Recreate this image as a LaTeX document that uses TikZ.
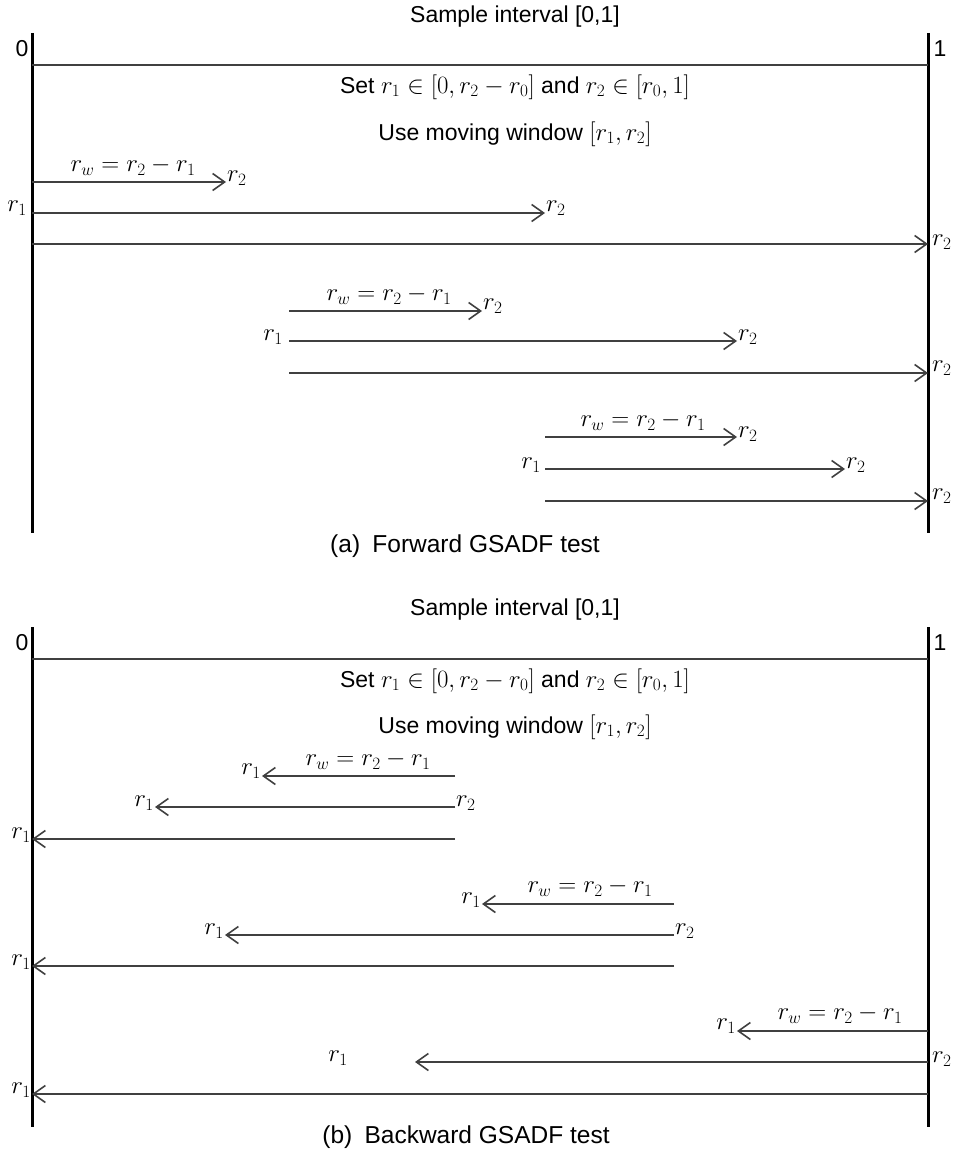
\documentclass[tikz,border=0pt]{standalone}
\usepackage{fontspec}
\setmainfont{Liberation Sans}
\usetikzlibrary{arrows.meta}
\newcommand{\lblsize}[0]{\fontsize{23}{28}\selectfont}
\newcommand{\capsize}[0]{\fontsize{24.5}{29}\selectfont}
\newcommand{\rwin}[0]{$r_w = r_2 - r_1$}

\begin{document}
\begin{tikzpicture}[x=1pt, y=-1pt]
  \tikzset{every node/.style={font=\lblsize, inner sep=1pt},
    frameline/.style={line width=3pt},
    spanline/.style={line width=1.6pt, black!75},
    winarrow/.style={spanline, -{Straight Barb[length=12pt,width=17pt,line width=1.6pt]}}}
  \useasboundingbox (0,0) rectangle (953,1153);
  % (a) forward
  \node (SI-a) at (515,17) {Sample interval [0,1]};
  \node (Z-a) at (22,49) {0};
  \node (O-a) at (940,49) {1};
  \coordinate (L-a-t) at (32,33);
  \coordinate (L-a-b) at (32,533);
  \coordinate (R-a-t) at (928,33);
  \coordinate (R-a-b) at (928,533);
  \draw[frameline] (L-a-t) -- (L-a-b);
  \draw[frameline] (R-a-t) -- (R-a-b);
  \draw[spanline] (32,65) coordinate (H-a-l) -- (928,65) coordinate (H-a-r);
  \node (SET-a) at (515,87) {Set $r_1 \in [0, r_2 - r_0]$ and $r_2 \in [r_0, 1]$};
  \node (WIN-a) at (515,134) {Use moving window $[r_1, r_2]$};
  % first start point
  \coordinate (A-1-1) at (32,182);
  \coordinate (A-1-2) at (32,213);
  \coordinate (A-1-3) at (32,244);
  \node (RW-a-1) at (133,166) {\rwin};
  \node[anchor=west] (E-1-1) at (226,178) {$r_2$};
  \node (S-1-2) at (17,208) {$r_1$};
  \node[anchor=west] (E-1-2) at (545,208) {$r_2$};
  \node[anchor=west] (E-1-3) at (931,242) {$r_2$};
  \draw[winarrow] (A-1-1) -- (226,182);
  \draw[winarrow] (A-1-2) -- (545,213);
  \draw[winarrow] (A-1-3) -- (928,244);
  % second start point
  \coordinate (A-2-1) at (289,311);
  \coordinate (A-2-2) at (289,341);
  \coordinate (A-2-3) at (289,373);
  \node (RW-a-2) at (389,295) {\rwin};
  \node[anchor=west] (E-2-1) at (482,306) {$r_2$};
  \node (S-2-2) at (273,337) {$r_1$};
  \node[anchor=west] (E-2-2) at (737,337) {$r_2$};
  \node[anchor=west] (E-2-3) at (931,368) {$r_2$};
  \draw[winarrow] (A-2-1) -- (482,311);
  \draw[winarrow] (A-2-2) -- (737,341);
  \draw[winarrow] (A-2-3) -- (928,373);
  % third start point
  \coordinate (A-3-1) at (545,437);
  \coordinate (A-3-2) at (545,469);
  \coordinate (A-3-3) at (545,501);
  \node (RW-a-3) at (643,421) {\rwin};
  \node[anchor=west] (E-3-1) at (737,434) {$r_2$};
  \node (S-3-2) at (531,465) {$r_1$};
  \node[anchor=west] (E-3-2) at (845,465) {$r_2$};
  \node[anchor=west] (E-3-3) at (931,496) {$r_2$};
  \draw[winarrow] (A-3-1) -- (737,437);
  \draw[winarrow] (A-3-2) -- (845,469);
  \draw[winarrow] (A-3-3) -- (928,501);
  \node[font=\capsize] (CAP-a) at (465,546) {(a)\enspace Forward GSADF test};
  % (b) backward
  \node (SI-b) at (515,610) {Sample interval [0,1]};
  \node (Z-b) at (22,643) {0};
  \node (O-b) at (940,643) {1};
  \coordinate (L-b-t) at (32,627);
  \coordinate (L-b-b) at (32,1127);
  \coordinate (R-b-t) at (928,627);
  \coordinate (R-b-b) at (928,1127);
  \draw[frameline] (L-b-t) -- (L-b-b);
  \draw[frameline] (R-b-t) -- (R-b-b);
  \draw[spanline] (32,659) coordinate (H-b-l) -- (928,659) coordinate (H-b-r);
  \node (SET-b) at (515,681) {Set $r_1 \in [0, r_2 - r_0]$ and $r_2 \in [r_0, 1]$};
  \node (WIN-b) at (515,727) {Use moving window $[r_1, r_2]$};
  % first end point
  \coordinate (B-1-1) at (455,776);
  \coordinate (B-1-2) at (455,807);
  \coordinate (B-1-3) at (455,839);
  \node (RW-b-1) at (368,760) {\rwin};
  \node[anchor=east] (F-1-1) at (262,771) {$r_1$};
  \node[anchor=east] (F-1-2) at (155,803) {$r_1$};
  \node[anchor=west] (T-1-2) at (455,803) {$r_2$};
  \node[anchor=east] (F-1-3) at (32,835) {$r_1$};
  \draw[winarrow] (B-1-1) -- (262,776);
  \draw[winarrow] (B-1-2) -- (155,807);
  \draw[winarrow] (B-1-3) -- (32,839);
  % second end point
  \coordinate (B-2-1) at (674,904);
  \coordinate (B-2-2) at (674,935);
  \coordinate (B-2-3) at (674,966);
  \node (RW-b-2) at (590,887) {\rwin};
  \node[anchor=east] (F-2-1) at (482,900) {$r_1$};
  \node[anchor=east] (F-2-2) at (225,931) {$r_1$};
  \node[anchor=west] (T-2-2) at (674,931) {$r_2$};
  \node[anchor=east] (F-2-3) at (32,962) {$r_1$};
  \draw[winarrow] (B-2-1) -- (482,904);
  \draw[winarrow] (B-2-2) -- (225,935);
  \draw[winarrow] (B-2-3) -- (32,966);
  % third end point
  \coordinate (B-3-1) at (928,1031);
  \coordinate (B-3-2) at (928,1062);
  \coordinate (B-3-3) at (928,1094);
  \node (RW-b-3) at (840,1014) {\rwin};
  \node[anchor=east] (F-3-1) at (737,1026) {$r_1$};
  \node (F-3-2) at (338,1058) {$r_1$};
  \node[anchor=west] (T-3-2) at (931,1059) {$r_2$};
  \node[anchor=east] (F-3-3) at (32,1090) {$r_1$};
  \draw[winarrow] (B-3-1) -- (737,1031);
  \draw[winarrow] (B-3-2) -- (415,1062);
  \draw[winarrow] (B-3-3) -- (32,1094);
  \node[font=\capsize] (CAP-b) at (466,1137) {(b)\enspace Backward GSADF test};
\end{tikzpicture}
\end{document}
